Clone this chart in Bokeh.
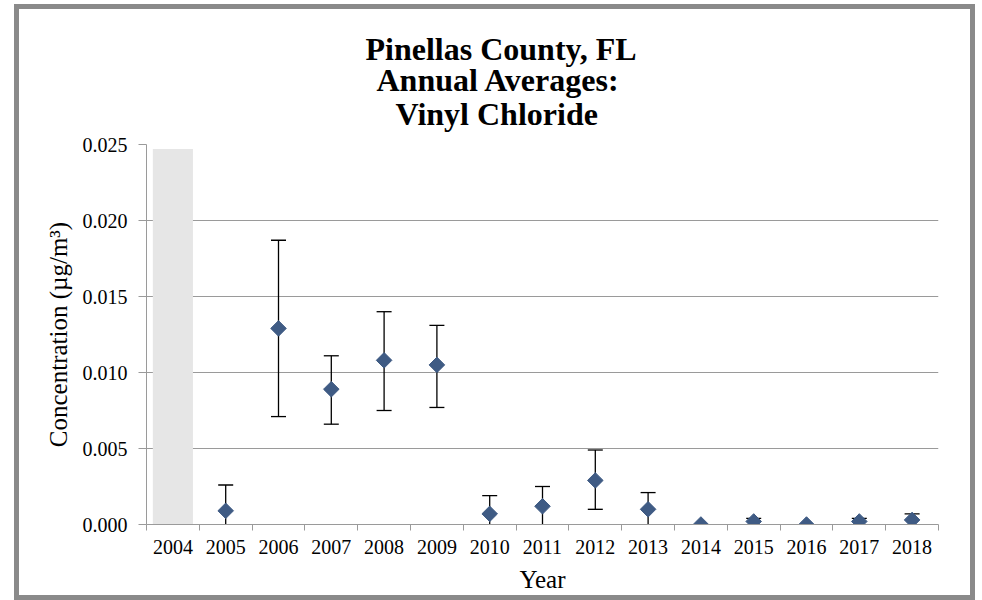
import math
from bokeh.plotting import figure
from bokeh.models import (ColumnDataSource, Whisker, TeeHead, FixedTicker,
                          NumeralTickFormatter, Range1d, Title)
from bokeh.embed import file_html
from bokeh.resources import INLINE

# ---- data ----
years = [2005, 2006, 2007, 2008, 2009, 2010, 2011, 2012, 2013, 2014, 2015, 2016, 2017, 2018]
means = [0.0009, 0.0129, 0.0089, 0.0108, 0.0105, 0.0007, 0.0012, 0.0029, 0.0010, 0.0000, 0.0002, 0.0000, 0.0002, 0.0003]
upper = [0.0026, 0.0187, 0.0111, 0.0140, 0.0131, 0.0019, 0.0025, 0.0049, 0.0021, 0.0000, 0.0004, 0.0000, 0.0004, 0.0007]
lower = [0.0000, 0.0071, 0.0066, 0.0075, 0.0077, 0.0000, 0.0000, 0.0010, 0.0000, 0.0000, 0.0000, 0.0000, 0.0000, 0.0000]
all_years = list(range(2004, 2019))
shaded_years = [2004]
shaded_top = [0.0247]
y_ticks = [0.0, 0.005, 0.010, 0.015, 0.020, 0.025]
title_lines = ["Pinellas County, FL", "Annual Averages:", "Vinyl Chloride"]

FONT = "Liberation Serif"
MARKER = "#3f5b84"
GRID = "#9a9a9a"

p = figure(width=951, height=586, output_backend="svg", toolbar_location=None,
           x_range=Range1d(all_years[0] - 0.5, all_years[-1] + 0.5),
           y_range=Range1d(y_ticks[0], y_ticks[-1]),
           min_border_left=127, min_border_right=32, min_border_top=135,
           min_border_bottom=70)
p.styles = {"box-shadow": "0 0 0 5px #8a8a8a", "margin-left": "19px", "margin-top": "9px"}
p.outline_line_color = None
p.background_fill_color = "white"
p.border_fill_color = "white"

# title lines: p.title is the outermost, later-added titles sit closer to the plot
offsets = [219, 230, 249]
standoffs = [22, -35, 26]
p.title.text = title_lines[0]
p.title.text_font = FONT
p.title.text_font_size = "32px"
p.title.text_font_style = "bold"
p.title.text_color = "black"
p.title.align = "left"
p.title.offset = offsets[0]
p.title.standoff = standoffs[0]
for i in [2, 1]:
    p.add_layout(Title(text=title_lines[i], text_font=FONT, text_font_size="32px",
                       text_font_style="bold", text_color="black", align="left",
                       offset=offsets[i], standoff=standoffs[i]), "above")

# shaded no-data column
p.vbar(x=shaded_years, top=shaded_top, bottom=0, width=0.76,
       fill_color="#e6e6e6", line_color=None)

# error bars
full_idx = [i for i in range(len(years)) if lower[i] > 0]
part_idx = [i for i in range(len(years)) if lower[i] <= 0 and upper[i] > means[i]]
src_full = ColumnDataSource(dict(x=[years[i] for i in full_idx],
                                 up=[upper[i] for i in full_idx],
                                 lo=[lower[i] for i in full_idx]))
src_part = ColumnDataSource(dict(x=[years[i] for i in part_idx],
                                 up=[upper[i] for i in part_idx],
                                 lo=[lower[i] for i in part_idx]))
p.add_layout(Whisker(source=src_full, base="x", upper="up", lower="lo",
                     line_color="black", line_width=1.3,
                     upper_head=TeeHead(size=15, line_color="black", line_width=1.3),
                     lower_head=TeeHead(size=15, line_color="black", line_width=1.3)))
p.add_layout(Whisker(source=src_part, base="x", upper="up", lower="lo",
                     line_color="black", line_width=1.3,
                     upper_head=TeeHead(size=15, line_color="black", line_width=1.3),
                     lower_head=None))

# markers
p.scatter(x=years, y=means, marker="square", angle=math.pi / 4, size=11,
          fill_color=MARKER, line_color=MARKER)

# axes
xa = p.xaxis[0]
xa.ticker = FixedTicker(ticks=all_years, minor_ticks=[y - 0.5 for y in all_years] + [all_years[-1] + 0.5])
xa.major_tick_out = 0
xa.major_tick_in = 0
xa.minor_tick_out = 6
xa.minor_tick_in = 0
xa.minor_tick_line_color = GRID
xa.axis_line_color = GRID
xa.major_label_text_font = FONT
xa.major_label_text_font_size = "20px"
xa.major_label_text_color = "black"
xa.major_label_standoff = 9
xa.axis_label = "Year"
xa.axis_label_text_font = FONT
xa.axis_label_text_font_size = "25px"
xa.axis_label_text_font_style = "normal"
xa.axis_label_text_color = "black"
xa.axis_label_standoff = 9

ya = p.yaxis[0]
ya.ticker = FixedTicker(ticks=y_ticks)
ya.formatter = NumeralTickFormatter(format="0.000")
ya.major_tick_out = 8
ya.major_tick_in = 0
ya.minor_tick_line_color = None
ya.major_tick_line_color = GRID
ya.axis_line_color = GRID
ya.major_label_text_font = FONT
ya.major_label_text_font_size = "20px"
ya.major_label_text_color = "black"
ya.major_label_standoff = 11
ya.axis_label = "Concentration (µg/m³)"
ya.axis_label_text_font = FONT
ya.axis_label_text_font_size = "25px"
ya.axis_label_text_font_style = "normal"
ya.axis_label_text_color = "black"
ya.axis_label_standoff = 8

p.xgrid.grid_line_color = None
p.ygrid.grid_line_color = GRID
p.ygrid.ticker = FixedTicker(ticks=y_ticks)

open("out.html", "w").write(file_html(p, INLINE))
